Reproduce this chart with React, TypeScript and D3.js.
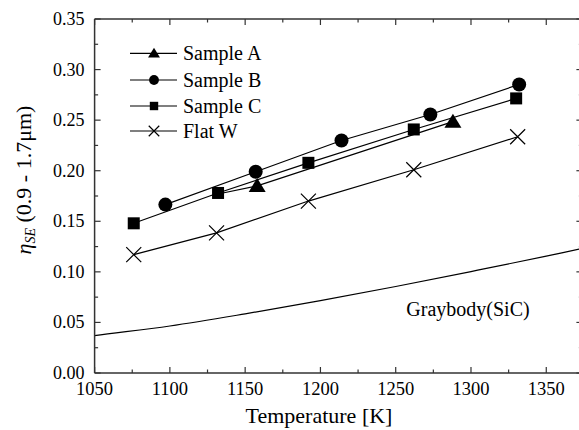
import React from "react";
import * as d3 from "d3";

const W = 579;
const H = 430;

// Data
const sampleA_T = [1132, 1158, 1288];
const sampleA_V = [0.177, 0.185, 0.2485];
const sampleA_shown = [false, true, true];
const sampleB_T = [1097, 1157, 1214, 1273, 1332];
const sampleB_V = [0.1665, 0.199, 0.2299, 0.2556, 0.2853];
const sampleC_T = [1076, 1132, 1192, 1262, 1330];
const sampleC_V = [0.148, 0.178, 0.2078, 0.2408, 0.2715];
const flatW_T = [1076, 1131, 1192, 1262, 1331];
const flatW_V = [0.117, 0.1385, 0.17, 0.201, 0.2336];
const gray_T = [1040, 1050, 1100, 1150, 1200, 1250, 1300, 1350, 1372, 1390];
const gray_V = [0.035, 0.037, 0.0465, 0.0585, 0.0715, 0.0855, 0.1003, 0.1155, 0.1225, 0.128];

const xTicks = [1050, 1100, 1150, 1200, 1250, 1300, 1350];
const xMinor = [1075, 1125, 1175, 1225, 1275, 1325, 1375];
const yTicks = [0, 0.05, 0.1, 0.15, 0.2, 0.25, 0.3, 0.35];
const yMinor = [0.025, 0.075, 0.125, 0.175, 0.225, 0.275, 0.325];

const legendNames = ["Sample A", "Sample B", "Sample C", "Flat W"];
const legendShapes = ["tri", "circ", "sq", "cross"];

const font = "'Liberation Serif', 'Times New Roman', serif";
const tstyle = { fontFamily: font };

function Marker({ shape, x, y, s }: { shape: string; x: number; y: number; s: number }) {
  if (shape === "tri") {
    const w = 8.5 * s, t = 8 * s, b = 6 * s;
    return <path d={`M${x},${y - t}L${x + w},${y + b}L${x - w},${y + b}Z`} fill="#000" />;
  }
  if (shape === "circ") return <circle cx={x} cy={y} r={7 * s} fill="#000" />;
  if (shape === "sq") {
    const h = 6 * s;
    return <rect x={x - h} y={y - h} width={2 * h} height={2 * h} fill="#000" />;
  }
  const a = 7.5 * s;
  return (
    <path
      d={`M${x - a},${y - a}L${x + a},${y + a}M${x - a},${y + a}L${x + a},${y - a}`}
      stroke="#000"
      strokeWidth={1.2}
      fill="none"
    />
  );
}

export default function App() {
  const x = d3.scaleLinear().domain([1050, 1374]).range([94.6, 582.4]);
  const y = d3.scaleLinear().domain([0, 0.35]).range([373, 19]);
  const x0 = x(1050), x1 = x(1374), y0 = y(0), y1 = y(0.35);

  const line = d3
    .line<[number, number]>()
    .x((d) => x(d[0]))
    .y((d) => y(d[1]));
  const curve = d3
    .line<[number, number]>()
    .x((d) => x(d[0]))
    .y((d) => y(d[1]))
    .curve(d3.curveMonotoneX);

  const series = [
    { T: sampleA_T, V: sampleA_V, shape: "tri", shown: sampleA_shown },
    { T: sampleB_T, V: sampleB_V, shape: "circ", shown: null },
    { T: sampleC_T, V: sampleC_V, shape: "sq", shown: null },
    { T: flatW_T, V: flatW_V, shape: "cross", shown: null },
  ];

  const axisColor = "#333";
  const legendRows = [53.3, 80, 106, 131];

  return (
    <svg
      width={W}
      height={H}
      style={{ position: "absolute", left: 0, top: 0, background: "#fff" }}
      fontFamily={font}
    >
      <defs>
        <clipPath id="plot">
          <rect x={x0} y={y1} width={x1 - x0} height={y0 - y1} />
        </clipPath>
      </defs>
      <rect x={0} y={0} width={W} height={H} fill="#fff" />

      {/* Graybody curve */}
      <path
        d={curve(gray_T.map((t, i) => [t, gray_V[i]] as [number, number])) || ""}
        fill="none"
        stroke="#000"
        strokeWidth={1.2}
        clipPath="url(#plot)"
      />
      <text x={x(1298)} y={y(0.0564)} fontSize={20} textAnchor="middle" fill="#000" style={tstyle}>
        Graybody(SiC)
      </text>

      {/* Series lines */}
      {series.map((s, i) => (
        <path
          key={"l" + i}
          d={line(s.T.map((t, j) => [t, s.V[j]] as [number, number])) || ""}
          fill="none"
          stroke="#000"
          strokeWidth={1.2}
        />
      ))}
      {series.map((s, i) =>
        s.T.map((t, j) =>
          s.shown && !s.shown[j] ? null : (
            <Marker key={`m${i}-${j}`} shape={s.shape} x={x(t)} y={y(s.V[j])} s={1} />
          )
        )
      )}

      {/* Axes frame */}
      <line x1={x0} x2={x0} y1={y1} y2={y0} stroke={axisColor} strokeWidth={1.5} />
      <line x1={x0} x2={x1} y1={y0} y2={y0} stroke={axisColor} strokeWidth={1.5} />
      <line x1={x0} x2={x1} y1={y1} y2={y1} stroke={axisColor} strokeWidth={1.5} />
      <line x1={x1} x2={x1} y1={y1} y2={y0} stroke={axisColor} strokeWidth={1.5} />

      {/* X ticks */}
      {xTicks.map((t) => (
        <g key={"xt" + t}>
          <line x1={x(t)} x2={x(t)} y1={y0} y2={y0 - 6} stroke={axisColor} strokeWidth={1.2} />
          <line x1={x(t)} x2={x(t)} y1={y1} y2={y1 + 6} stroke={axisColor} strokeWidth={1.2} />
          <text x={x(t)} y={y0 + 22} fontSize={18.5} textAnchor="middle" fill="#000" style={tstyle}>
            {t}
          </text>
        </g>
      ))}
      {xMinor.map((t) => (
        <g key={"xm" + t}>
          <line x1={x(t)} x2={x(t)} y1={y0} y2={y0 - 3.5} stroke={axisColor} strokeWidth={1.2} />
          <line x1={x(t)} x2={x(t)} y1={y1} y2={y1 + 3.5} stroke={axisColor} strokeWidth={1.2} />
        </g>
      ))}
      {/* Y ticks */}
      {yTicks.map((v) => (
        <g key={"yt" + v}>
          <line x1={x0} x2={x0 + 6} y1={y(v)} y2={y(v)} stroke={axisColor} strokeWidth={1.2} />
          <line x1={x1} x2={x1 - 6} y1={y(v)} y2={y(v)} stroke={axisColor} strokeWidth={1.2} />
          <text x={x0 - 10} y={y(v) + 6} fontSize={18} textAnchor="end" fill="#000" style={tstyle}>
            {v.toFixed(2)}
          </text>
        </g>
      ))}
      {yMinor.map((v) => (
        <g key={"ym" + v}>
          <line x1={x0} x2={x0 + 3.5} y1={y(v)} y2={y(v)} stroke={axisColor} strokeWidth={1.2} />
          <line x1={x1} x2={x1 - 3.5} y1={y(v)} y2={y(v)} stroke={axisColor} strokeWidth={1.2} />
        </g>
      ))}

      {/* Axis titles */}
      <text x={319} y={423} fontSize={22} textAnchor="middle" fill="#000" style={tstyle}>
        Temperature [K]
      </text>
      <g transform="translate(31,180) rotate(-90)">
        <text x={0} y={0} fontSize={22} textAnchor="middle" fill="#000" style={tstyle}>
          <tspan fontStyle="italic">η</tspan>
          <tspan fontStyle="italic" fontSize={14} dy={4}>SE</tspan>
          <tspan dy={-4}> (0.9 - 1.7μm)</tspan>
        </text>
      </g>

      {/* Legend */}
      {legendNames.map((name, i) => (
        <g key={"lg" + i}>
          <line x1={130} x2={177} y1={legendRows[i]} y2={legendRows[i]} stroke="#000" strokeWidth={1.2} />
          <Marker shape={legendShapes[i]} x={154} y={legendRows[i]} s={0.7} />
          <text x={183} y={legendRows[i] + 7} fontSize={20} fill="#000" style={tstyle}>
            {name}
          </text>
        </g>
      ))}
    </svg>
  );
}
